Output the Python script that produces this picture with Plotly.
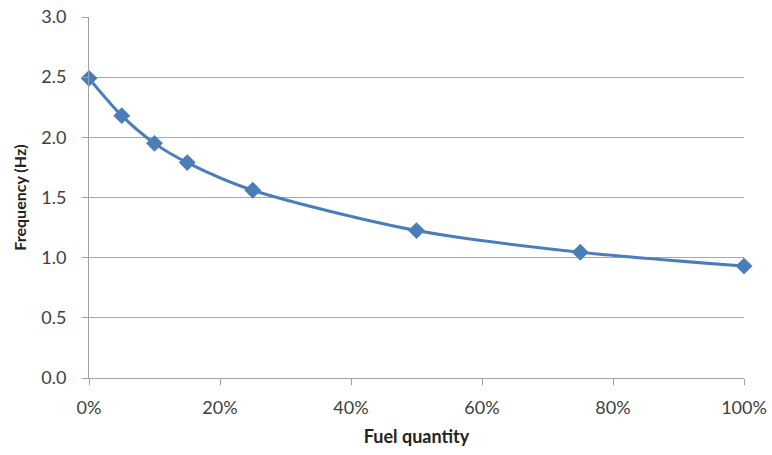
import plotly.graph_objects as go

fuel_pct = [0, 5, 10, 15, 25, 50, 75, 100]
frequency_hz = [2.49, 2.18, 1.95, 1.79, 1.56, 1.225, 1.045, 0.93]
x_ticks = [0, 20, 40, 60, 80, 100]
x_tick_labels = ["0%", "20%", "40%", "60%", "80%", "100%"]
y_ticks = [0.0, 0.5, 1.0, 1.5, 2.0, 2.5, 3.0]
y_tick_labels = ["0.0", "0.5", "1.0", "1.5", "2.0", "2.5", "3.0"]

blue = "#4a7ebb"
fig = go.Figure()
fig.add_trace(go.Scatter(
    x=fuel_pct, y=frequency_hz, mode="lines+markers",
    line=dict(color=blue, width=3, shape="spline", smoothing=0.8),
    marker=dict(symbol="diamond", size=13, color=blue),
    showlegend=False, cliponaxis=False,
))
font = "Lato, 'Open Sans', sans-serif"
fig.update_layout(
    width=772, height=455,
    margin=dict(l=89, r=28, t=17, b=77),
    paper_bgcolor="white", plot_bgcolor="white",
    font=dict(family=font, size=15, color="#404040"),
    xaxis=dict(
        range=[0, 100], tickvals=x_ticks, ticktext=x_tick_labels, automargin=False,
        showgrid=False, zeroline=False, showline=True, linecolor="#a0a0a0", linewidth=1,
        ticks="outside", ticklen=6, tickcolor="#a0a0a0", ticklabelstandoff=7,
        title=dict(text="<b>Fuel quantity</b>", font=dict(size=18, color="#222"), standoff=13),
        tickfont=dict(size=18, color="#404040"),
    ),
    yaxis=dict(
        range=[0, 3.0], tickvals=y_ticks, ticktext=y_tick_labels, automargin=False,
        showgrid=True, gridcolor="#a8a8a8", gridwidth=1, zeroline=False,
        showline=True, linecolor="#a0a0a0", linewidth=1,
        ticks="outside", ticklen=6, tickcolor="#a0a0a0", ticklabelstandoff=12,
        title=dict(text="<b>Frequency (Hz)</b>", font=dict(size=16, color="#222"), standoff=10),
        tickfont=dict(size=18, color="#404040"),
    ),
)
fig.write_html("out.html")
